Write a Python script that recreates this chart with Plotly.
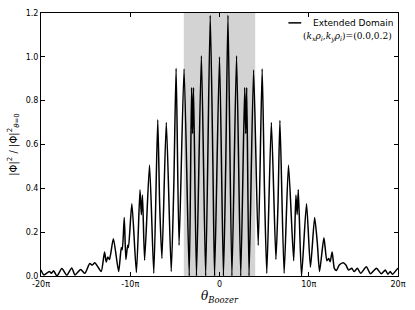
import plotly.graph_objects as go

# theta_Boozer in units of pi, and normalised |Phi|^2
theta_pi = [
    -20.0, -19.69, -19.39, -19.03, -18.84, -18.59, -18.21, -17.66, -17.11, -16.56,
    -16.19, -15.56, -15.09, -14.54, -14.26, -13.98, -13.6, -13.25, -12.88, -12.69,
    -12.52, -12.33, -11.89, -11.3, -11.0, -10.89, -10.67, -10.49, -10.29, -10.2,
    -9.82, -9.31, -8.91, -8.76, -8.63, -8.39, -7.84, -7.36, -6.92, -6.7,
    -6.45, -5.96, -5.41, -5.12, -4.86, -4.53, -3.97, -3.39, -3.13, -3.02,
    -2.91, -2.58, -2.03, -1.55, -1.04, -0.74, -0.55, 0.0, 0.44, 0.7,
    0.95, 1.39, 1.91, 2.38, 2.82, 2.94, 3.05, 3.31, 3.82, 4.34,
    4.78, 5.03, 5.3, 5.81, 6.32, 6.55, 6.77, 7.24, 7.73, 8.31,
    8.56, 8.7, 8.83, 9.19, 9.75, 10.19, 10.66, 10.96, 11.21, 11.7,
    12.03, 12.23, 12.4, 12.62, 12.87, 13.11, 13.42, 13.86, 14.16, 14.46,
    14.82, 15.08, 15.45, 15.82, 16.45, 16.92, 17.58, 18.13, 18.58, 18.87,
    19.13, 19.38, 19.87, 20.0,
]
phi_sq = [
    0.027, 0.005, 0.012, 0.02, 0.012, 0.024, 0.0, 0.034, 0.004, 0.037,
    0.005, 0.03, 0.012, 0.057, 0.05, 0.06, 0.04, 0.02, 0.109, 0.064,
    0.087, 0.075, 0.17, 0.02, 0.13, 0.12, 0.267, 0.075, 0.14, 0.13,
    0.33, 0.016, 0.394, 0.28, 0.37, 0.072, 0.506, 0.013, 0.713, 0.32,
    0.08, 0.70, 0.02, 0.41, 0.948, 0.14, 0.945, 0.0, 0.86, 0.65,
    0.86, 0.0, 1.005, 0.0, 1.19, 0.51, 0.0, 1.0, 0.0, 0.51,
    1.19, 0.0, 1.005, 0.0, 0.86, 0.65, 0.86, 0.0, 0.94, 0.14,
    0.945, 0.41, 0.012, 0.70, 0.075, 0.32, 0.71, 0.012, 0.506, 0.07,
    0.37, 0.28, 0.394, 0.0, 0.33, 0.04, 0.267, 0.15, 0.02, 0.174,
    0.07, 0.08, 0.065, 0.11, 0.035, 0.025, 0.05, 0.06, 0.05, 0.027,
    0.035, 0.02, 0.035, 0.012, 0.042, 0.01, 0.035, 0.01, 0.027, 0.008,
    0.02, 0.008, 0.03, 0.035,
]

# grey band = original (non-extended) domain, in units of pi
band_pi = [-4, 4]

x_tickvals = [-20, -10, 0, 10, 20]
x_ticktext = ["-20π", "-10π", "0", "10π", "20π"]
y_tickvals = [0.0, 0.2, 0.4, 0.6, 0.8, 1.0, 1.2]

series_name = "Extended Domain"

fig = go.Figure()
fig.add_vrect(x0=band_pi[0], x1=band_pi[1], fillcolor="#d3d3d3",
              line_width=0, layer="below")
fig.add_trace(go.Scatter(
    x=theta_pi, y=phi_sq, mode="lines", name=series_name,
    line=dict(color="black", width=1.5, shape="spline", smoothing=0.6),
    showlegend=False,
))

# manual legend (matplotlib style, no frame)
fig.add_shape(type="line", xref="paper", yref="paper",
              x0=0.693, x1=0.729, y0=0.9625, y1=0.9625,
              line=dict(color="black", width=1.5))
fig.add_annotation(xref="paper", yref="paper", x=0.757, y=0.9625,
                   xanchor="left", yanchor="middle", showarrow=False,
                   text=series_name,
                   font=dict(family="DejaVu Sans", size=9, color="black"))
fig.add_annotation(xref="paper", yref="paper", x=0.989, y=0.91,
                   xanchor="right", yanchor="middle", showarrow=False,
                   text="(<i>k<sub>x</sub>ρ<sub>i</sub></i>,<i>k<sub>y</sub>ρ<sub>i</sub></i>)=(0.0,0.2)",
                   font=dict(family="DejaVu Serif", size=9, color="black"))

axis_common = dict(showline=True, linecolor="black", linewidth=1,
                   mirror="ticks", ticks="inside", ticklen=4,
                   tickcolor="black", showgrid=False, zeroline=False,
                   tickfont=dict(family="DejaVu Sans", size=8, color="black"))

fig.update_xaxes(range=[-20, 20], tickvals=x_tickvals, ticktext=x_ticktext,
                 title=dict(text="<i>θ<sub>Boozer</sub></i>",
                            font=dict(family="DejaVu Serif", size=12, color="black"),
                            standoff=4),
                 **axis_common)
fig.update_yaxes(range=[0, 1.2], tickvals=y_tickvals, tickformat=".1f",
                 title=dict(text="|Φ|<sup>2</sup> / |Φ|<sup>2</sup><sub><i>θ</i>=0</sub>",
                            font=dict(family="DejaVu Sans", size=10, color="black"),
                            standoff=6),
                 **axis_common)

fig.update_layout(width=415, height=310,
                  margin=dict(l=41, r=12, t=9, b=34),
                  paper_bgcolor="white", plot_bgcolor="white",
                  showlegend=False)

fig.write_html("out.html", config={"displayModeBar": False},
               post_script="document.body.style.margin='0';document.body.style.padding='0';")
